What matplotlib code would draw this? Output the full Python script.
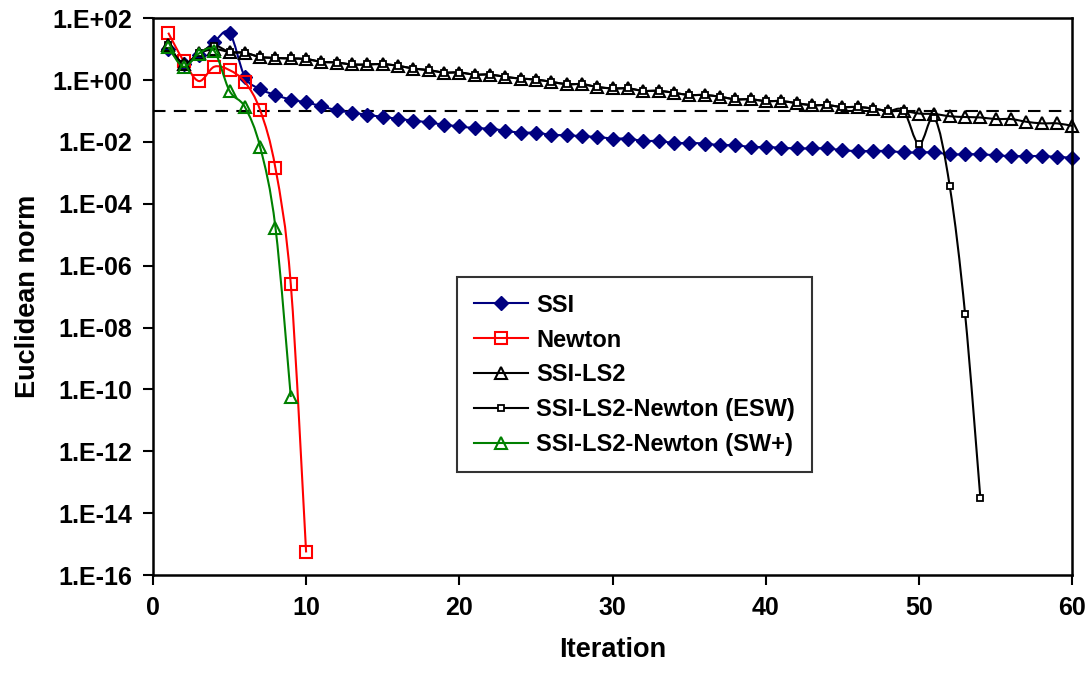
import numpy as np
import matplotlib
matplotlib.use("Agg")
import matplotlib.pyplot as plt
from matplotlib.path import Path
from matplotlib.patches import PathPatch
from matplotlib.lines import Line2D
from matplotlib.ticker import NullLocator

plt.rcParams['font.family'] = ['Liberation Sans', 'DejaVu Sans']
plt.rcParams['font.weight'] = 'bold'

# values (Euclidean norm per iteration)
ssi_iter = list(range(1, 61))
ssi = [10.5, 3.4, 6.3, 17, 34, 1.26, 0.51, 0.33, 0.235, 0.19,
       0.143, 0.106, 0.089, 0.075, 0.065, 0.056, 0.049, 0.043, 0.036, 0.032,
       0.028, 0.027, 0.023, 0.020, 0.020, 0.017, 0.0166, 0.0153, 0.0146, 0.0129,
       0.0129, 0.0108, 0.0108, 0.0093, 0.0093, 0.0089, 0.0079, 0.0079, 0.0069, 0.0069,
       0.0065, 0.0062, 0.0062, 0.0062, 0.0054, 0.0051, 0.0051, 0.0051, 0.0046, 0.0046,
       0.0046, 0.0040, 0.0040, 0.0040, 0.0037, 0.0035, 0.0035, 0.0035, 0.0033, 0.0031]

newton_iter = list(range(1, 11))
newton = [34, 4.2, 0.93, 2.7, 2.1, 0.87, 0.107, 1.4e-3, 2.5e-7, 5.4e-16]

ls2_iter = list(range(1, 61))
ls2 = [13.5, 3.4, 7.3, 10, 8.1, 7.6, 5.6, 5.2, 5.0, 4.8,
       3.9, 3.7, 3.2, 3.2, 3.3, 2.9, 2.37, 2.1, 1.76, 1.76,
       1.51, 1.51, 1.27, 1.12, 1.04, 0.88, 0.74, 0.74, 0.60, 0.54,
       0.54, 0.45, 0.45, 0.39, 0.33, 0.33, 0.29, 0.24, 0.24, 0.21,
       0.21, 0.18, 0.155, 0.155, 0.135, 0.135, 0.12, 0.10, 0.10, 0.083,
       0.08, 0.068, 0.064, 0.062, 0.055, 0.055, 0.045, 0.040, 0.040, 0.033]

esw_iter = list(range(1, 55))
esw = [13.5, 3.4, 7.3, 13, 8.1, 7.6, 5.6, 5.2, 5.0, 4.8,
       3.9, 3.7, 3.2, 3.2, 3.3, 2.9, 2.37, 2.1, 1.76, 1.76,
       1.51, 1.51, 1.27, 1.12, 1.04, 0.88, 0.74, 0.74, 0.60, 0.54,
       0.54, 0.45, 0.45, 0.39, 0.33, 0.33, 0.29, 0.24, 0.24, 0.21,
       0.21, 0.18, 0.155, 0.155, 0.135, 0.135, 0.12, 0.10, 0.10,
       0.0083, 0.06, 3.7e-4, 2.8e-8, 3e-14]

swp_iter = list(range(1, 10))
swp = [11.8, 2.7, 7.2, 8.8, 0.45, 0.136, 6.9e-3, 1.7e-5, 5.7e-11]

threshold = 0.1
ytick_exp = list(range(2, -17, -2))
xticks = [0, 10, 20, 30, 40, 50, 60]


def smooth_path(x, y):
    # excel-style smoothed line: bezier through points, built in (x, log y)
    lx = np.asarray(x, float)
    ly = np.log10(np.asarray(y, float))
    n = len(lx)
    verts = [(lx[0], ly[0])]
    codes = [Path.MOVETO]
    for i in range(n - 1):
        a = i - 1 if i > 0 else i
        d = i + 2 if i + 2 < n else i + 1
        c1 = (lx[i] + (lx[i + 1] - lx[a]) / 6, ly[i] + (ly[i + 1] - ly[a]) / 6)
        c2 = (lx[i + 1] - (lx[d] - lx[i]) / 6, ly[i + 1] - (ly[d] - ly[i]) / 6)
        verts += [c1, c2, (lx[i + 1], ly[i + 1])]
        codes += [Path.CURVE4] * 3
    v = np.array(verts)
    v[:, 1] = 10 ** v[:, 1]
    return Path(v, codes)


fig = plt.figure(figsize=(10.92, 6.75), dpi=100)
ax = fig.add_axes([0.140, 0.148, 0.842, 0.825])
ax.set_yscale('log')

ax.axhline(threshold, color='black', lw=1.5, ls=(0, (6, 4)), zorder=1)

series = [
    (ssi_iter, ssi, 'SSI', '#000080', dict(marker='D', ms=7, mfc='#000080', mec='#000080', mew=1)),
    (newton_iter, newton, 'Newton', '#FF0000', dict(marker='s', ms=8, mfc='none', mec='#FF0000', mew=1.5)),
    (ls2_iter, ls2, 'SSI-LS2', 'black', dict(marker='^', ms=9, mfc='none', mec='black', mew=1.5)),
    (esw_iter, esw, 'SSI-LS2-Newton (ESW)', 'black', dict(marker='s', ms=4.5, mfc='white', mec='black', mew=1.3)),
    (swp_iter, swp, 'SSI-LS2-Newton (SW+)', '#008000', dict(marker='^', ms=9, mfc='none', mec='#008000', mew=1.5)),
]

handles = []
z = 2
for x, y, name, col, mk in series:
    ax.add_patch(PathPatch(smooth_path(x, y), fill=False, edgecolor=col, lw=1.5, zorder=z))
    ax.plot(x, y, ls='none', clip_on=False, zorder=z + 0.5, **mk)
    handles.append(Line2D([], [], color=col, lw=1.5, **mk))
    z += 1

ax.set_xlim(0, 60)
ax.set_ylim(1e-16, 1e2)
ax.set_xticks(xticks)
ax.set_yticks([10.0 ** e for e in ytick_exp])
ax.set_yticklabels(["1.E%+03d" % e for e in ytick_exp])
ax.yaxis.set_minor_locator(NullLocator())
ax.tick_params(direction='out', length=7, width=1.5, labelsize=18, pad=8)
for s in ax.spines.values():
    s.set_linewidth(1.8)

ax.set_xlabel('Iteration', fontsize=19.5, fontweight='bold', labelpad=12)
ax.set_ylabel('Euclidean norm', fontsize=19.5, fontweight='bold', labelpad=8)

leg = ax.legend(handles, [s[2] for s in series], loc='upper left',
                bbox_to_anchor=(0.331, 0.535), borderaxespad=0, fontsize=17,
                frameon=True, fancybox=False, edgecolor='black', handlelength=2.3,
                numpoints=1, labelspacing=0.5, borderpad=0.7, handletextpad=0.35)
leg.get_frame().set_linewidth(1.5)

fig.savefig('out.png', dpi=100)
